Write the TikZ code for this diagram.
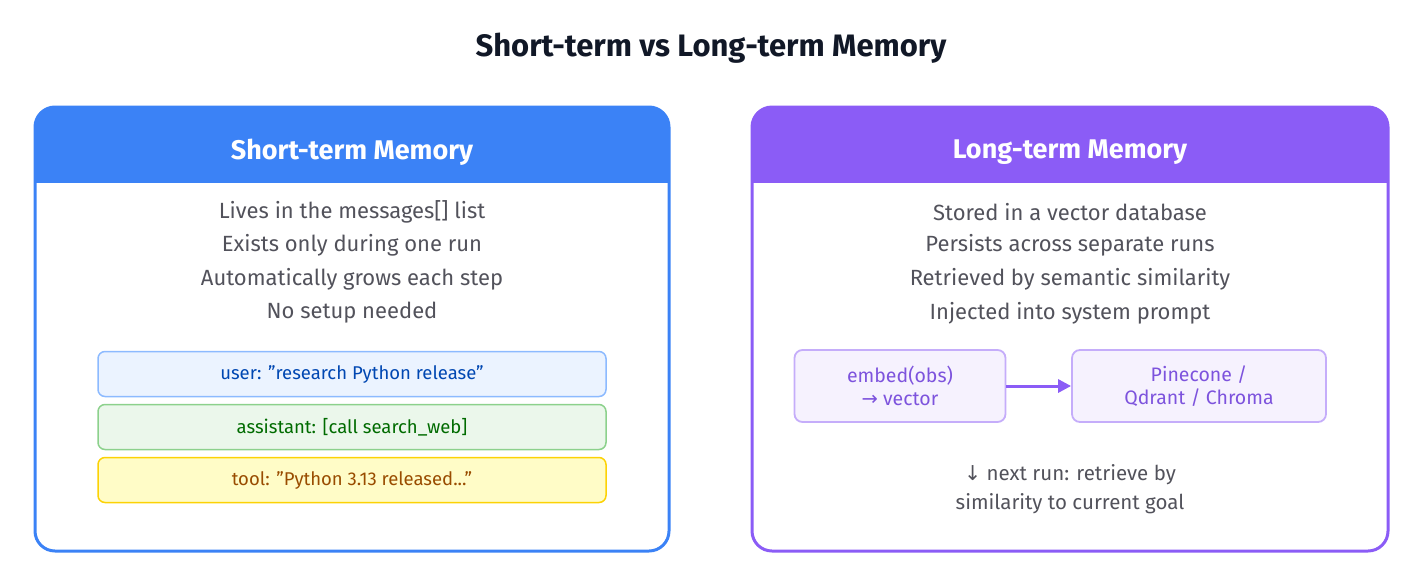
\documentclass[tikz,border=0pt]{standalone}
\usepackage{fontspec}
\setmainfont{Fira Sans}[Ligatures=ResetAll]
\usetikzlibrary{arrows.meta}
\definecolor{blu}{HTML}{3B82F6}
\definecolor{pur}{HTML}{8B5CF6}
\definecolor{txt}{HTML}{52525B}
\definecolor{ttl}{HTML}{111827}
\begin{document}
\begin{tikzpicture}[x=1pt,y=-1pt,
  body/.style={text=txt,font=\fontsize{22}{26}\selectfont,align=center},
  msg/.style={draw=#1!45,fill=#1!8,line width=1.5pt,rounded corners=7pt,minimum width=508pt,minimum height=45pt,font=\fontsize{18.5}{22}\selectfont,text=#1!70!black},
  pbox/.style={draw=pur!50,fill=pur!8,line width=1.8pt,rounded corners=8pt,minimum height=72pt,font=\fontsize{19.5}{23}\selectfont,text=pur!90!black,align=center},
  hdr/.style={text=white,font=\bfseries\fontsize{27}{30}\selectfont}]
\useasboundingbox (0,0) rectangle (1423,587);
\node[text=ttl,font=\bfseries\fontsize{31}{34}\selectfont] (title) at (711,48) {Short-term vs Long-term Memory};
% left
\begin{scope}
\clip[rounded corners=20pt] (35,107) rectangle (669,551);
\fill[blu] (35,107) rectangle (669,183);
\end{scope}
\draw[blu,line width=3pt,rounded corners=20pt] (35,107) rectangle (669,551);
\node[hdr] (lh) at (352,152) {Short-term Memory};
\node[body] (l1) at (352,212) {Lives in the messages[] list};
\node[body] (l2) at (352,245) {Exists only during one run};
\node[body] (l3) at (352,279) {Automatically grows each step};
\node[body] (l4) at (352,313) {No setup needed};
\node[msg=blue!60!cyan] (m1) at (352,374) {user: "research Python release"};
\node[msg=green!60!black] (m2) at (352,427) {assistant: [call search\_web]};
\node[draw=yellow!70!orange,fill=yellow!22,line width=1.5pt,rounded corners=7pt,minimum width=508pt,minimum height=45pt,font=\fontsize{18.5}{22}\selectfont,text=orange!60!black] (m3) at (352,480) {tool: "Python 3.13 released..."};
% right
\begin{scope}
\clip[rounded corners=20pt] (752,107) rectangle (1388,551);
\fill[pur] (752,107) rectangle (1388,183);
\end{scope}
\draw[pur,line width=3pt,rounded corners=20pt] (752,107) rectangle (1388,551);
\node[hdr] (rh) at (1070,152) {Long-term Memory};
\node[body] (r1) at (1070,212) {Stored in a vector database};
\node[body] (r2) at (1070,245) {Persists across separate runs};
\node[body] (r3) at (1070,279) {Retrieved by semantic similarity};
\node[body] (r4) at (1070,313) {Injected into system prompt};
\node[pbox,minimum width=211pt] (e) at (900,386) {embed(obs)\\{\fontspec{DejaVu Sans}→} vector};
\node[pbox,minimum width=254pt] (p) at (1199,386) {Pinecone /\\Qdrant / Chroma};
\draw[pur,line width=3pt,-{Triangle[length=13pt,width=13pt]}] (e) -- (p);
\node[body,font=\fontsize{20.5}{29}\selectfont] (nx) at (1070,489) {{\fontspec{DejaVu Sans}↓} next run: retrieve by\\similarity to current goal};
\end{tikzpicture}
\end{document}
